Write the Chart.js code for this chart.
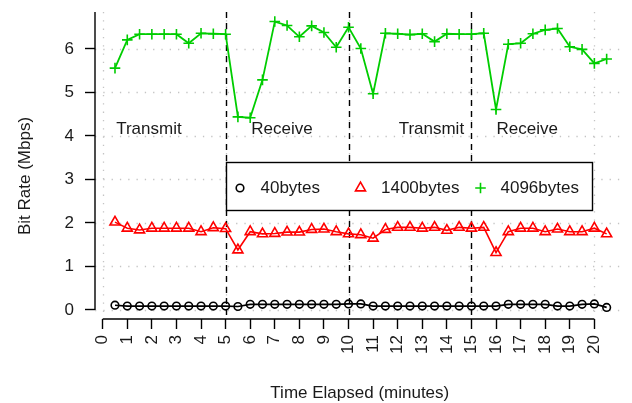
<!DOCTYPE html>
<html>
<head>
<meta charset="utf-8">
<script src="https://cdn.jsdelivr.net/npm/chart.js@4/dist/chart.umd.min.js"></script>
<style>
html, body { margin: 0; padding: 0; background: #fff; }
</style>
</head>
<body>
<canvas id="chart" width="632" height="403"></canvas>
<script>
// time of each sample, minutes
var minutes = [0.5, 1, 1.5, 2, 2.5, 3, 3.5, 4, 4.5, 5, 5.5, 6, 6.5, 7, 7.5, 8, 8.5, 9, 9.5, 10,
               10.5, 11, 11.5, 12, 12.5, 13, 13.5, 14, 14.5, 15, 15.5, 16, 16.5, 17, 17.5, 18, 18.5, 19, 19.5, 20, 20.5];
// bit rate, Mbps
var bytes40 = [0.11, 0.09, 0.09, 0.09, 0.09, 0.09, 0.09, 0.09, 0.09, 0.09, 0.08, 0.13, 0.13, 0.13, 0.13, 0.13, 0.13, 0.13, 0.13, 0.14,
               0.14, 0.09, 0.09, 0.09, 0.09, 0.09, 0.09, 0.09, 0.09, 0.09, 0.09, 0.09, 0.13, 0.13, 0.13, 0.13, 0.09, 0.09, 0.13, 0.14, 0.06];
var bytes1400 = [2.02, 1.88, 1.84, 1.88, 1.88, 1.88, 1.88, 1.80, 1.89, 1.87, 1.38, 1.80, 1.75, 1.76, 1.79, 1.79, 1.85, 1.86, 1.80, 1.75,
                 1.73, 1.65, 1.85, 1.90, 1.90, 1.88, 1.90, 1.83, 1.90, 1.88, 1.90, 1.32, 1.80, 1.88, 1.88, 1.80, 1.86, 1.80, 1.80, 1.88, 1.75];
var bytes4096 = [5.56, 6.21, 6.34, 6.34, 6.34, 6.34, 6.13, 6.36, 6.35, 6.34, 4.44, 4.42, 5.29, 6.63, 6.54, 6.28, 6.53, 6.38, 6.04, 6.50,
                 6.01, 4.97, 6.36, 6.35, 6.33, 6.35, 6.17, 6.35, 6.34, 6.34, 6.36, 4.61, 6.11, 6.13, 6.35, 6.44, 6.47, 6.05, 5.99, 5.67, 5.77];

var xTicks = [0, 1, 2, 3, 4, 5, 6, 7, 8, 9, 10, 11, 12, 13, 14, 15, 16, 17, 18, 19, 20];
var yTicks = [0, 1, 2, 3, 4, 5, 6];
var gridX = [0, 5, 10, 15, 20];
var phaseLines = [5, 10, 15];
var notes = ['Transmit', 'Receive', 'Transmit', 'Receive'];
var noteX = [1.88, 7.29, 13.37, 17.27];
var noteY = 4.16;

var FONT = '"Liberation Sans", Arial, sans-serif';
var legendAt = [5, 3.41];

function pts(vals) {
    return vals.map(function (v, i) { return { x: minutes[i], y: v }; });
}

function noPad(s) {
    s.paddingTop = 0; s.paddingBottom = 0; s.paddingLeft = 0; s.paddingRight = 0;
}

var decor = {
    id: 'decor',
    beforeDatasetsDraw: function (chart) {
        var ctx = chart.ctx, a = chart.chartArea, sx = chart.scales.x, sy = chart.scales.y;
        ctx.save();
        // light dotted grid
        ctx.strokeStyle = '#c4c4c4';
        ctx.lineWidth = 1.3;
        ctx.setLineDash([1.3, 7]);
        gridX.forEach(function (v) {
            var px = Math.round(sx.getPixelForValue(v)) + 0.5;
            ctx.beginPath(); ctx.moveTo(px, a.top); ctx.lineTo(px, a.bottom); ctx.stroke();
        });
        yTicks.forEach(function (v) {
            var py = Math.round(sy.getPixelForValue(v)) + 0.5;
            ctx.beginPath(); ctx.moveTo(a.left, py); ctx.lineTo(a.right, py); ctx.stroke();
        });
        // phase separators
        ctx.strokeStyle = '#000';
        ctx.lineWidth = 1.4;
        ctx.setLineDash([6, 5]);
        phaseLines.forEach(function (v) {
            var px = Math.round(sx.getPixelForValue(v)) + 0.5;
            ctx.beginPath(); ctx.moveTo(px, a.top); ctx.lineTo(px, a.bottom); ctx.stroke();
        });
        // R style axis lines
        ctx.setLineDash([]);
        ctx.lineWidth = 1.4;
        ctx.beginPath();
        ctx.moveTo(sx.getPixelForValue(xTicks[0]), a.bottom);
        ctx.lineTo(sx.getPixelForValue(xTicks[xTicks.length - 1]), a.bottom);
        ctx.moveTo(a.left, sy.getPixelForValue(0));
        ctx.lineTo(a.left, a.top);
        ctx.stroke();
        ctx.restore();
    },
    afterDatasetsDraw: function (chart) {
        var ctx = chart.ctx, a = chart.chartArea, sx = chart.scales.x, sy = chart.scales.y;
        ctx.save();
        ctx.font = '17px ' + FONT;
        ctx.fillStyle = '#1a1a1a';
        ctx.textBaseline = 'middle';
        ctx.textAlign = 'center';
        notes.forEach(function (t, i) {
            ctx.fillText(t, sx.getPixelForValue(noteX[i]), sy.getPixelForValue(noteY));
        });

        // legend box
        var lx = Math.round(sx.getPixelForValue(legendAt[0])) + 0.5;
        var ly = Math.round(sy.getPixelForValue(legendAt[1])) + 0.5;
        ctx.fillStyle = '#fff';
        ctx.fillRect(lx, ly, 366, 48);
        ctx.strokeStyle = '#000';
        ctx.lineWidth = 1.4;
        ctx.strokeRect(lx, ly, 366, 48);
        var cy = ly + 25.5;
        ctx.lineWidth = 1.6;
        // circle
        ctx.strokeStyle = '#000';
        ctx.beginPath(); ctx.arc(lx + 13.5, cy, 3.8, 0, Math.PI * 2); ctx.stroke();
        // triangle
        var r = 5.8, tx = lx + 134;
        ctx.strokeStyle = '#ff0000';
        ctx.beginPath();
        ctx.moveTo(tx, cy - r);
        ctx.lineTo(tx + r * 0.866, cy + r / 2);
        ctx.lineTo(tx - r * 0.866, cy + r / 2);
        ctx.closePath(); ctx.stroke();
        // plus
        var px = lx + 254, pr = 5.3;
        ctx.strokeStyle = '#00cd00';
        ctx.beginPath();
        ctx.moveTo(px - pr, cy); ctx.lineTo(px + pr, cy);
        ctx.moveTo(px, cy - pr); ctx.lineTo(px, cy + pr);
        ctx.stroke();
        ctx.fillStyle = '#1a1a1a';
        ctx.textAlign = 'left';
        ctx.fillText('40bytes', lx + 34, cy);
        ctx.fillText('1400bytes', lx + 154.5, cy);
        ctx.fillText('4096bytes', lx + 274, cy);

        // axis titles
        ctx.textAlign = 'center';
        ctx.fillText('Time Elapsed (minutes)', (a.left + a.right) / 2, 393);
        ctx.translate(25, 176);
        ctx.rotate(-Math.PI / 2);
        ctx.fillText('Bit Rate (Mbps)', 0, 0);
        ctx.restore();
    }
};

var ctx = document.getElementById('chart').getContext('2d');
var chart = new Chart(ctx, {
    type: 'line',
    data: {
        datasets: [{
            label: '40bytes',
            data: pts(bytes40),
            borderColor: '#000',
            borderWidth: 1.6,
            pointStyle: 'circle',
            pointRadius: 3.8,
            pointBorderWidth: 1.6,
            pointBorderColor: '#000',
            pointBackgroundColor: 'rgba(0,0,0,0)'
        }, {
            label: '1400bytes',
            data: pts(bytes1400),
            borderColor: '#ff0000',
            borderWidth: 1.6,
            pointStyle: 'triangle',
            pointRadius: 5.8,
            pointBorderWidth: 1.6,
            pointBorderColor: '#ff0000',
            pointBackgroundColor: 'rgba(0,0,0,0)'
        }, {
            label: '4096bytes',
            data: pts(bytes4096),
            borderColor: '#00cd00',
            borderWidth: 1.8,
            pointStyle: 'cross',
            pointRadius: 5.3,
            pointBorderWidth: 1.6,
            pointBorderColor: '#00cd00',
            pointBackgroundColor: 'rgba(0,0,0,0)'
        }]
    },
    options: {
        responsive: false,
        animation: false,
        devicePixelRatio: 1,
        layout: { padding: { left: 0, right: 7, top: 12, bottom: 0 } },
        plugins: { legend: { display: false }, tooltip: { enabled: false } },
        elements: { line: { tension: 0 } },
        scales: {
            x: {
                type: 'linear',
                min: -0.313,
                max: 21.23,
                afterBuildTicks: function (s) { s.ticks = xTicks.map(function (v) { return { value: v }; }); },
                afterFit: function (s) { s.height = 84; noPad(s); },
                border: { display: false },
                grid: { drawOnChartArea: false, tickLength: 10, tickColor: '#000', tickWidth: 1.4 },
                ticks: {
                    autoSkip: false, minRotation: 90, maxRotation: 90, padding: 6,
                    color: '#1a1a1a', font: { family: FONT, size: 17 }
                }
            },
            y: {
                min: -0.207,
                max: 6.85,
                afterBuildTicks: function (s) { s.ticks = yTicks.map(function (v) { return { value: v }; }); },
                afterFit: function (s) { s.width = 95; noPad(s); },
                border: { display: false },
                grid: { drawOnChartArea: false, tickLength: 10, tickColor: '#000', tickWidth: 1.4 },
                ticks: { padding: 11, color: '#1a1a1a', font: { family: FONT, size: 17 } }
            }
        }
    },
    plugins: [decor]
});
</script>
</body>
</html>
